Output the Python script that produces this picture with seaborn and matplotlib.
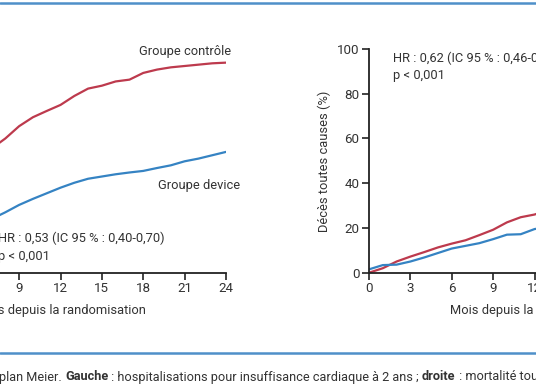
import matplotlib
matplotlib.use("Agg")
import matplotlib.pyplot as plt
from matplotlib.lines import Line2D
import pandas as pd
import seaborn as sns

# =========================================================================
# Données (mois depuis la randomisation, %)
# =========================================================================
MONTHS = list(range(0, 25))

# gauche : hospitalisations pour insuffisance cardiaque
HOSP_CONTROLE = [0, 10, 20, 29, 37, 44, 50, 55.5, 60, 65.5, 69.5, 72.3, 75,
                 79, 82.3, 83.6, 85.5, 86.3, 89.3, 90.8, 91.8, 92.4, 93, 93.6, 93.9]
HOSP_DEVICE = [0, 5, 9, 13, 16, 19, 22, 24, 27, 30.3, 33, 35.5, 38,
               40.2, 42, 43, 44, 44.8, 45.5, 46.8, 48, 49.8, 51, 52.5, 54]

# droite : mortalité toutes causes
DECES_CONTROLE = [0, 2, 5, 7.2, 9.2, 11.3, 13, 14.5, 16.8, 19.2, 22.5, 24.8, 26,
                  28, 30, 32, 34, 35.5, 37.5, 39.5, 41, 42.5, 44, 45, 46.1]
DECES_DEVICE = [1.5, 3.4, 3.6, 5, 6.8, 8.8, 10.8, 12, 13.2, 15, 17, 17.2, 19.5,
                20.5, 21.5, 22.5, 23.5, 24.5, 25.5, 26.3, 27, 27.8, 28.3, 28.8, 29.1]

GROUPES = ["Groupe contrôle", "Groupe device"]
XTICKS = [0, 3, 6, 9, 12, 15, 18, 21, 24]
YTICKS = [0, 20, 40, 60, 80, 100]

RED = "#bd3a4d"
BLUE = "#3583c3"
RULE = "#4f90c9"
TXT = "#333333"
FS = 9.3

# =========================================================================
# Style
# =========================================================================
sns.set_style("ticks")
plt.rcParams.update({
    "font.family": ["Roboto", "DejaVu Sans"],
    "axes.edgecolor": "#222222",
    "axes.linewidth": 1.3,
    "xtick.color": "#222222",
    "ytick.color": "#222222",
    "xtick.labelcolor": TXT,
    "ytick.labelcolor": TXT,
    "text.color": TXT,
    "axes.labelcolor": TXT,
})

W, H = 536, 386
fig = plt.figure(figsize=(W / 100, H / 100), dpi=100)
fig.patch.set_facecolor("white")


def make_df(ctrl, dev):
    return pd.DataFrame({
        "mois": MONTHS + MONTHS,
        "pct": ctrl + dev,
        "groupe": [GROUPES[0]] * len(MONTHS) + [GROUPES[1]] * len(MONTHS),
    })


def draw_panel(ax, df, ylabel):
    sns.lineplot(data=df, x="mois", y="pct", hue="groupe",
                 palette={GROUPES[0]: RED, GROUPES[1]: BLUE},
                 linewidth=1.6, legend=False, ax=ax)
    ax.set_xlim(0, 24)
    ax.set_ylim(0, 100)
    ax.set_xticks(XTICKS)
    ax.set_yticks(YTICKS)
    ax.tick_params(direction="out", length=5, width=1.2, labelsize=9.6, pad=2)
    ax.set_xlabel("Mois depuis la randomisation", fontsize=FS, labelpad=6)
    ax.set_ylabel(ylabel, fontsize=FS, labelpad=4)
    sns.despine(ax=ax)


# axes en pixels : mois 0 -> x, largeur 331 px, 0 % à y=272.7, 100 % à y=49
def px_axes(x0):
    return fig.add_axes([x0 / W, (H - 272.7) / H, 331 / W, 223.7 / H])


ax_l = px_axes(-105)
draw_panel(ax_l, make_df(HOSP_CONTROLE, HOSP_DEVICE),
           "Hospitalisations pour IC (%)")
ax_l.text(17.7, 99, GROUPES[0], fontsize=FS, va="center", ha="left")
ax_l.text(19.1, 39, GROUPES[1], fontsize=FS, va="center", ha="left")
ax_l.text(7.45, 15.2, "HR : 0,53 (IC 95 % : 0,40-0,70)", fontsize=FS, va="center")
ax_l.text(7.45, 7.1, "p < 0,001", fontsize=FS, va="center")

ax_r = px_axes(369)
draw_panel(ax_r, make_df(DECES_CONTROLE, DECES_DEVICE),
           "Décès toutes causes (%)")
ax_r.text(1.74, 95.8, "HR : 0,62 (IC 95 % : 0,46-0,82)", fontsize=FS, va="center")
ax_r.text(1.74, 88.1, "p < 0,001", fontsize=FS, va="center")

# filets bleus haut / bas
for y in (3.3, 352.7):
    fig.add_artist(Line2D([0, 1], [1 - y / H] * 2, color=RULE, lw=1.8,
                          transform=fig.transFigure))

# légende de la figure (texte avec parties en gras)
pieces = [("plan Meier. ", "normal"), ("Gauche", "bold"),
          (" : hospitalisations pour insuffisance cardiaque à 2 ans ; ", "normal"),
          ("droite", "bold"), (" : mortalité toutes causes à 2 ans.", "normal")]
prev = fig.text(-1 / W, 1 - 380.5 / H, pieces[0][0], fontsize=9.2,
                fontweight=pieces[0][1], va="baseline", ha="left")
for txt, wt in pieces[1:]:
    prev = ax_r.annotate(txt, xy=(1, 0), xycoords=prev, va="bottom", ha="left",
                         fontsize=9.2, fontweight=wt, annotation_clip=False)

fig.savefig("out.png", dpi=100, facecolor="white")
